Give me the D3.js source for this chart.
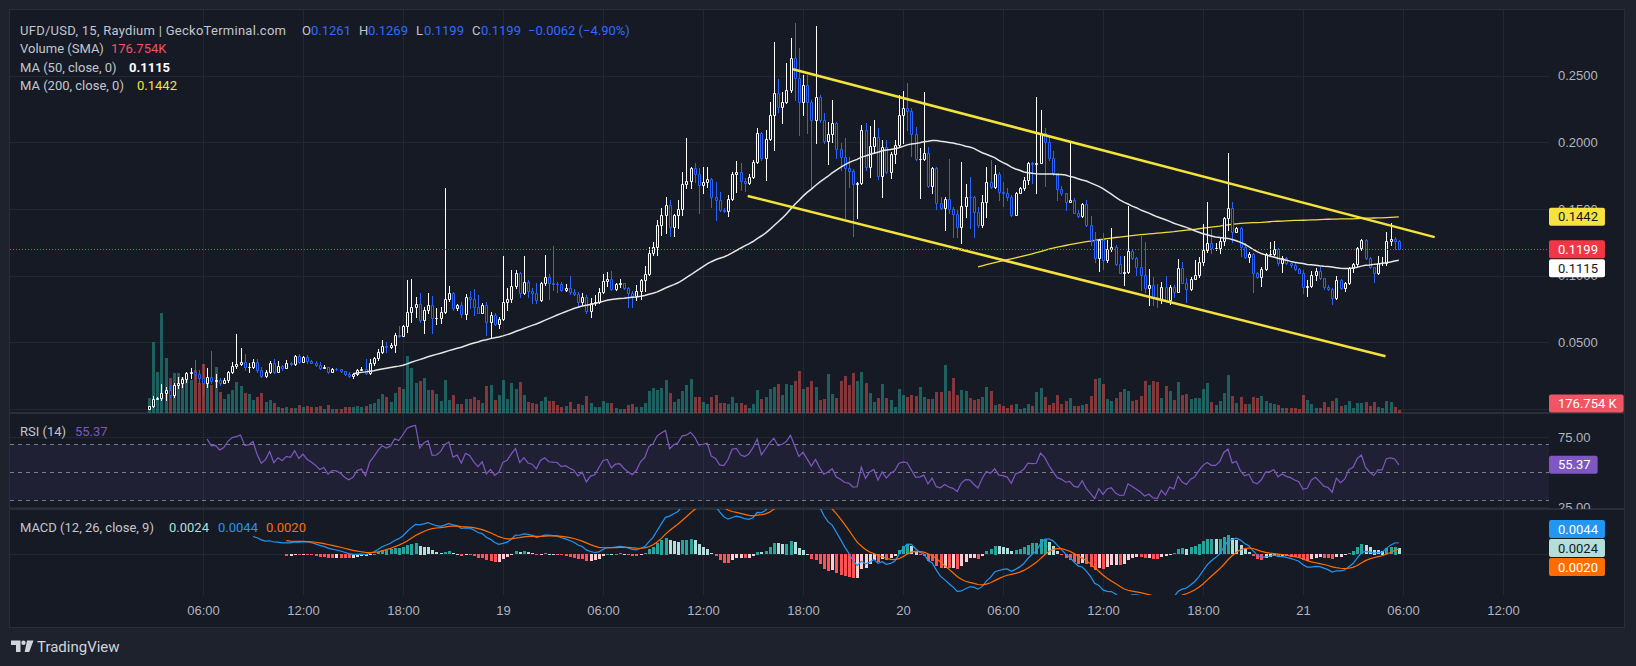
<!DOCTYPE html>
<html>
<head>
<meta charset="utf-8">
<title>UFD/USD 15</title>
<script src="https://cdn.jsdelivr.net/npm/d3@7/dist/d3.min.js"></script>
<style>
  html, body { margin: 0; padding: 0; background: #1e222d; }
  svg { display: block; font-family: Roboto, "Noto Sans", sans-serif; }
</style>
</head>
<body>
<svg id="chart" width="1636" height="666"></svg>
<script>
// 15 minute bars, first bar on the 18th at 02:45, open of a bar = close of the bar before
const firstBarHour = 2.75;
const firstOpen = 0.0003;

const closes = [
  .0023,.0075,.0083,.0118,.0143,.0103,.018,.0198,.0228,.027,
  .0275,.0263,.0235,.0193,.0243,.0213,.0218,.0198,.0218,.028,
  .0323,.0335,.0355,.0313,.0318,.035,.0293,.0248,.0275,.0343,
  .028,.0323,.0305,.0343,.0338,.0398,.0355,.0393,.0363,.0348,
  .033,.0305,.0318,.0278,.03,.0298,.0285,.0263,.0248,.026,
  .0293,.03,.0268,.0343,.038,.043,.0473,.0463,.048,.0555,
  .0548,.0623,.073,.0768,.0788,.067,.0743,.078,.068,.0685,
  .0725,.0823,.0868,.0755,.078,.0713,.0843,.0825,.0768,.0723,
  .078,.0655,.0705,.0638,.0673,.08,.0825,.0923,.1018,.0868,
  .095,.0888,.0873,.0818,.0943,.0988,.0943,.0938,.0935,.0893,
  .0905,.088,.0863,.0805,.0843,.0738,.0793,.0805,.0875,.096,
  .0973,.0898,.0938,.0943,.0905,.0873,.0848,.0883,.0968,.1013,
  .1168,.1213,.138,.1455,.153,.1368,.1455,.1498,.1688,.171,
  .1805,.176,.168,.17,.1723,.1593,.1568,.1493,.1485,.1573,
  .1763,.178,.1713,.1693,.1738,.1855,.2068,.188,.2023,.2205,
  .2368,.2268,.2305,.2393,.263,.248,.2305,.243,.2305,.2168,
  .2343,.2168,.2013,.2063,.2143,.1948,.1888,.1805,.1788,.1688,
  .1693,.2093,.1813,.1973,.2038,.175,.1963,.178,.1913,.198,
  .2205,.2255,.2238,.2063,.1873,.1873,.1918,.1675,.1805,.1543,
  .1505,.1573,.1498,.146,.1363,.1523,.1593,.1588,.148,.138,
  .1555,.1705,.1668,.1763,.163,.1618,.1588,.1455,.1623,.166,
  .1718,.1843,.1835,.1843,.2068,.2005,.188,.1768,.1648,.1618,
  .1555,.1568,.1473,.1448,.1538,.138,.1268,.113,.1268,.1118,
  .12,.1218,.1088,.1023,.1028,.1185,.113,.1068,.1005,.0905,
  .0928,.0843,.0823,.0918,.0818,.0918,.088,.1055,.0948,.0898,
  .0975,.1005,.1105,.1193,.1243,.1205,.1205,.1263,.143,.1505,
  .133,.1355,.1218,.1138,.1163,.1023,.0993,.1048,.116,.1163,
  .1198,.1093,.113,.1098,.108,.1048,.1023,.0913,.0923,.1005,
  .1035,.098,.0918,.0898,.083,.0968,.0905,.0943,.1055,.1085,
  .121,.1268,.113,.1063,.1018,.1093,.1093,.126,.1273,.1261,
  .1199
];

const highs = [
  .0025,.0098,.0093,.0185,.0168,.018,.0193,.0243,.0243,.028,
  .0305,.0368,.0293,.0335,.031,.0435,.0263,.0235,.023,.0288,
  .0353,.0563,.0455,.041,.0343,.0375,.0375,.0318,.0293,.0363,
  .0373,.0363,.033,.0368,.0353,.0405,.0413,.0398,.0405,.0368,
  .0358,.035,.033,.0318,.0305,.0305,.03,.0288,.028,.0268,
  .0298,.0318,.0378,.0378,.0393,.0448,.0518,.0505,.0498,.0568,
  .0623,.063,.0968,.0973,.0843,.0868,.0768,.0868,.0848,.0755,
  .0763,.1655,.0923,.088,.079,.0805,.0863,.0885,.09,.0855,
  .0793,.08,.073,.0723,.0693,.1148,.0905,.1043,.1043,.103,
  .1148,.0968,.0905,.0943,.095,.1155,.1013,.1223,.0955,.0955,
  .0938,.0998,.0898,.088,.0868,.0855,.083,.0855,.0905,.1013,
  .103,.1038,.0948,.0973,.0943,.0913,.0888,.093,.0973,.1075,
  .1213,.1255,.1418,.1505,.1588,.1568,.1463,.1568,.178,.203,
  .1818,.1843,.1805,.1818,.1818,.173,.1705,.163,.1505,.1605,
  .178,.1863,.1843,.173,.1763,.1868,.2105,.208,.2093,.2305,
  .2755,.2473,.238,.2593,.278,.2893,.2705,.2505,.2505,.2318,
  .2873,.2355,.2218,.2155,.2318,.2155,.1993,.203,.1893,.1798,
  .1705,.213,.2143,.2123,.2168,.2105,.2018,.2018,.193,.2018,
  .2355,.2388,.2448,.2255,.2118,.1955,.2378,.1968,.1818,.1818,
  .1593,.1593,.1873,.1518,.1493,.1855,.1688,.1743,.1598,.1518,
  .1605,.1813,.1868,.183,.178,.1705,.1655,.1605,.163,.1668,
  .1743,.1855,.1855,.2343,.2243,.2105,.2055,.1938,.1768,.1673,
  .1623,.2005,.158,.1493,.1548,.1568,.1448,.133,.1275,.1318,
  .1268,.1355,.123,.1148,.1148,.1523,.1198,.1138,.1298,.1255,
  .1048,.0988,.0938,.0955,.0998,.0928,.0928,.1123,.1105,.098,
  .0988,.1118,.1143,.1388,.1555,.1348,.1248,.1288,.1443,.1918,
  .1555,.1363,.1368,.1243,.118,.1168,.103,.1063,.1168,.1255,
  .1263,.1205,.1148,.1143,.1113,.1093,.1055,.1043,.0968,.1038,
  .1055,.1063,.0985,.0928,.0905,.0998,.0973,.095,.1068,.1093,
  .1218,.1275,.1273,.1143,.1068,.1148,.1143,.1325,.1393,.1293,
  .1269
];

const lows = [
  .0002,.0018,.0073,.0068,.0068,.0093,.0093,.0155,.0168,.0205,
  .023,.023,.0193,.0105,.0168,.0193,.0168,.018,.0198,.0205,
  .0268,.0305,.033,.0293,.028,.0305,.0278,.0238,.0243,.0268,
  .0268,.028,.0293,.0305,.0333,.033,.0348,.0355,.0348,.0343,
  .0323,.03,.0305,.0273,.0278,.0293,.028,.0258,.0238,.0235,
  .0255,.0293,.0263,.0263,.033,.0368,.0418,.043,.0455,.0425,
  .0538,.0548,.058,.0655,.0693,.0655,.0568,.0718,.0568,.0638,
  .0643,.0718,.0813,.0743,.0743,.0693,.0675,.0755,.0705,.072,
  .072,.0555,.053,.063,.0605,.0668,.0743,.0805,.0905,.0843,
  .0863,.0843,.0798,.0798,.0813,.093,.0825,.0893,.088,.0888,
  .0888,.0863,.0855,.0768,.078,.0718,.0688,.078,.0798,.0868,
  .0923,.0893,.0893,.0913,.09,.0768,.0768,.0818,.0823,.0888,
  .1005,.1158,.1158,.1305,.1318,.1298,.1298,.1355,.1455,.1655,
  .1655,.1705,.1473,.1623,.1668,.1518,.1418,.1488,.1478,.1448,
  .1568,.163,.1643,.1638,.1688,.173,.1843,.1868,.1718,.2018,
  .1943,.223,.2143,.2293,.238,.2318,.2055,.2205,.2068,.1668,
  .1998,.2155,.1998,.1838,.2005,.188,.1793,.143,.1668,.1298,
  .143,.1688,.1793,.1743,.1918,.1725,.1593,.1773,.173,.1848,
  .1973,.1993,.2093,.1898,.1868,.158,.1868,.1668,.1618,.1498,
  .1498,.1343,.1468,.1288,.1293,.1248,.1443,.1355,.1288,.1368,
  .1368,.1443,.1655,.1655,.1568,.1523,.1568,.1448,.1455,.1618,
  .1643,.1688,.1693,.1618,.1843,.1673,.1868,.1755,.1568,.1605,
  .1493,.1555,.1468,.1443,.1443,.1375,.123,.1105,.1038,.1048,
  .1105,.1188,.108,.1018,.093,.1018,.1123,.1005,.0893,.0875,
  .078,.078,.0763,.0793,.0805,.0785,.0838,.088,.0943,.0805,
  .0893,.0973,.0993,.108,.118,.1168,.1193,.1168,.123,.1343,
  .1255,.1325,.1148,.113,.1105,.088,.098,.0925,.1043,.1148,
  .1155,.108,.103,.1088,.1063,.1043,.1018,.0868,.085,.0913,
  .0968,.0973,.0898,.0893,.0788,.0823,.0898,.0888,.0938,.103,
  .1073,.1193,.1123,.1055,.0955,.1013,.108,.108,.123,.1198,
  .1199
];

// volume in thousands
const volumes = [
  900,4260,2460,6000,3300,2100,2400,2400,2160,2400,
  1980,2580,1800,2940,1800,1680,2760,1260,840,1140,
  1380,1860,1620,1200,1140,780,960,1200,660,780,
  600,360,300,360,300,300,480,360,420,360,
  360,420,240,480,240,240,240,360,360,360,
  420,360,420,540,600,840,1140,960,660,1200,
  1560,1440,3420,2700,1800,1920,2100,1380,1380,1140,
  720,1980,780,1080,540,540,840,840,960,780,
  600,1620,1680,780,1080,1980,840,1800,1440,1860,
  1080,660,600,540,720,960,720,720,480,360,
  420,660,240,540,480,1020,600,360,360,720,
  600,600,300,240,240,480,540,360,360,600,
  1320,1500,1380,1500,1980,1200,660,840,1320,1680,
  2040,960,960,660,540,960,1080,600,600,540,
  960,600,600,480,300,540,1380,840,960,1440,
  1560,1740,1080,1740,1680,1920,2520,1440,1560,1920,
  1560,780,840,2340,1140,900,1920,2220,1680,2400,
  1920,2460,1800,1200,660,900,1740,900,780,360,
  1440,1080,960,1080,1020,1560,960,840,840,1260,
  1260,2880,1320,2100,1080,1380,1320,900,780,840,
  960,1560,1320,480,540,420,300,480,540,240,
  300,540,420,1260,1500,960,480,600,1080,540,
  720,900,420,420,480,540,1020,2040,2100,1740,
  840,720,900,1260,1440,1320,720,780,1020,1920,
  1680,1920,1860,900,1620,1320,780,1860,1080,1140,
  840,900,900,1440,1800,660,480,720,1200,2280,
  1020,600,960,540,540,960,900,1020,720,600,
  540,480,300,300,300,300,240,1080,780,540,
  300,300,660,360,720,900,420,480,720,300,
  600,600,660,420,660,360,300,720,660,360,
  176.754
];

const priceTicks = [0.05, 0.10, 0.15, 0.20, 0.25];
const priceGrid = [0, 0.05, 0.10, 0.15, 0.20, 0.25];
const rsiTicks = [75, 25];
const rsiLevels = [70, 50, 30];
const timeTickHours = [6, 12, 18, 24, 30, 36, 42, 48, 54, 60, 66, 72, 78, 84];
const timeTickLabels = ["06:00", "12:00", "18:00", "19", "06:00", "12:00", "18:00", "20",
                        "06:00", "12:00", "18:00", "21", "06:00", "12:00"];

// hand drawn channel: [hours after the 18th 00:00, price]
const upperChannel = [[41.4, 0.2548], [79.9, 0.1289]];
const lowerChannel = [[38.68, 0.1598], [76.95, 0.0396]];

const lastPrice = 0.1199;

// ---- layout ----
const frame = { left: 10, top: 10, right: 1624, bottom: 627 };
const plotRight = 1549;
const pricePane = { top: 10, bottom: 413 };
const rsiPane = { top: 413, bottom: 509 };
const macdPane = { top: 509, bottom: 595 };

const col = {
  bg: "#161a25", grid: "#232733", text: "#b2b5be", legend: "#c3c6ce",
  up: "#ffffff", down: "#2962ff", volUp: "#26a69a", volDown: "#ef5350",
  ma50: "#e6e6e6", ma200: "#f2dc3a", channel: "#f5e33d", last: "#f23645",
  rsi: "#7e57c2", macd: "#2196f3", signal: "#ff6d00"
};

const svg = d3.select("#chart");
const defs = svg.append("defs");
function clip(id, x0, y0, x1, y1) {
  defs.append("clipPath").attr("id", id).append("rect")
    .attr("x", x0).attr("y", y0).attr("width", x1 - x0).attr("height", y1 - y0);
}
clip("clip-price", frame.left, pricePane.top, plotRight, pricePane.bottom);
clip("clip-rsi", frame.left, rsiPane.top, plotRight, rsiPane.bottom);
clip("clip-macd", frame.left, macdPane.top, plotRight, macdPane.bottom);
clip("clip-rsi-axis", plotRight, rsiPane.top + 1, frame.right, rsiPane.bottom);

// ---- bars ----
const t0 = Date.UTC(2024, 0, 18, 0, 0);
const HOUR = 3600e3;
const hourDate = h => new Date(t0 + h * HOUR);
const bars = closes.map((c, i) => ({
  i,
  t: hourDate(firstBarHour + i / 4),
  o: i === 0 ? firstOpen : closes[i - 1],
  h: highs[i], l: lows[i], c,
  v: volumes[i]
}));
bars.forEach(b => { b.up = b.c >= b.o; b.h = Math.max(b.h, b.o, b.c); b.l = Math.min(b.l, b.o, b.c); });

// ---- indicators ----
function sma(src, len) {
  const out = src.map(() => null);
  let s = 0;
  for (let i = 0; i < src.length; i++) {
    s += src[i];
    if (i >= len) s -= src[i - len];
    if (i >= len - 1) out[i] = s / len;
  }
  return out;
}
function ema(src, len) {
  const out = src.map(() => null);
  const start = src.findIndex(v => v != null);
  if (start < 0 || start + len > src.length) return out;
  const a = 2 / (len + 1);
  let prev = d3.mean(src.slice(start, start + len));
  out[start + len - 1] = prev;
  for (let i = start + len; i < src.length; i++) { prev = a * src[i] + (1 - a) * prev; out[i] = prev; }
  return out;
}
function rsiCalc(src, len) {
  const out = src.map(() => null);
  let g = 0, l = 0;
  for (let i = 1; i <= len; i++) { const d = src[i] - src[i - 1]; if (d > 0) g += d; else l -= d; }
  g /= len; l /= len;
  out[len] = l === 0 ? 100 : 100 - 100 / (1 + g / l);
  for (let i = len + 1; i < src.length; i++) {
    const d = src[i] - src[i - 1];
    g = (g * (len - 1) + Math.max(d, 0)) / len;
    l = (l * (len - 1) + Math.max(-d, 0)) / len;
    out[i] = l === 0 ? 100 : 100 - 100 / (1 + g / l);
  }
  return out;
}
const ma50 = sma(closes, 50);
const ma200 = sma(closes, 200);
const rsi = rsiCalc(closes, 14);
const ema12 = ema(closes, 12), ema26 = ema(closes, 26);
const macd = closes.map((_, i) => ema26[i] == null ? null : ema12[i] - ema26[i]);
const signal = ema(macd, 9);
const hist = macd.map((m, i) => signal[i] == null ? null : m - signal[i]);

// ---- scales ----
const x = d3.scaleUtc().domain([hourDate(0), hourDate(96)]).range([103, 1703]);
const y = d3.scaleLinear().domain([0, 0.25]).range([409, 409 - 0.25 / 0.00075]);
const yVol = d3.scaleLinear().domain([0, 6000]).range([pricePane.bottom, pricePane.bottom - 100]);
const yRsi = d3.scaleLinear().domain([30, 70]).range([500.3, 444.3]);
const yMacd = d3.scaleLinear().domain([0, 0.01]).range([554.3, 554.3 - 26.4]);

// ---- frame ----
svg.append("rect").attr("width", 1636).attr("height", 666).attr("fill", "#1e222d");
svg.append("rect").attr("x", frame.left - 0.5).attr("y", frame.top - 0.5)
  .attr("width", frame.right - frame.left + 1).attr("height", frame.bottom - frame.top + 1)
  .attr("fill", col.bg).attr("stroke", "#2a2e39");

// grid
const grid = svg.append("g").attr("stroke", col.grid).attr("stroke-width", 1);
timeTickHours.forEach(h => {
  const gx = Math.round(x(hourDate(h))) + 0.5;
  grid.append("line").attr("x1", gx).attr("x2", gx).attr("y1", frame.top).attr("y2", macdPane.bottom);
});
priceGrid.forEach(p => {
  const gy = Math.round(y(p)) + 0.5;
  grid.append("line").attr("x1", frame.left).attr("x2", plotRight).attr("y1", gy).attr("y2", gy);
});
rsiTicks.forEach(r => {
  const gy = Math.round(yRsi(r)) + 0.5;
  grid.append("line").attr("x1", frame.left).attr("x2", plotRight).attr("y1", gy).attr("y2", gy);
});
grid.append("line").attr("x1", frame.left).attr("x2", plotRight)
  .attr("y1", Math.round(yMacd(0)) + 0.5).attr("y2", Math.round(yMacd(0)) + 0.5);

// pane separators
[rsiPane.top, macdPane.top].forEach(py => {
  svg.append("line").attr("x1", frame.left).attr("x2", frame.right).attr("y1", py).attr("y2", py)
    .attr("stroke", "#2a2e39").attr("stroke-width", 2);
});

// ---- price pane ----
const gp = svg.append("g").attr("clip-path", "url(#clip-price)");

gp.append("g").selectAll("rect").data(bars).join("rect")
  .attr("x", d => Math.round(x(d.t)) - 1)
  .attr("y", d => Math.round(yVol(d.v)))
  .attr("width", 3)
  .attr("height", d => pricePane.bottom - Math.round(yVol(d.v)))
  .attr("fill", d => d.up ? col.volUp : col.volDown)
  .attr("fill-opacity", 0.5);

const lineFrom = (arr, ys) => d3.line()
  .defined(d => arr[d.i] != null)
  .x(d => x(d.t)).y(d => ys(arr[d.i]));

gp.append("path").datum(bars).attr("d", lineFrom(ma200, y))
  .attr("fill", "none").attr("stroke", col.ma200).attr("stroke-width", 1.3);

const gc = gp.append("g");
bars.forEach(b => {
  const cx = Math.round(x(b.t));
  const yo = Math.round(y(b.o)), yc = Math.round(y(b.c));
  const top = Math.min(yo, yc), bot = Math.max(yo, yc);
  const yh = Math.round(y(b.h)), yl = Math.round(y(b.l));
  const c = b.up ? col.up : col.down;
  gc.append("path")
    .attr("d", `M${cx + 0.5},${yh}V${top}M${cx + 0.5},${bot + 1}V${yl + 1}`)
    .attr("stroke", c).attr("stroke-width", 1);
  gc.append("path")
    .attr("d", `M${cx - 0.5},${top + 0.5}H${cx + 1.5}V${bot + 0.5}H${cx - 0.5}Z`)
    .attr("fill", col.bg).attr("stroke", c).attr("stroke-width", 1);
});

gp.append("path").datum(bars).attr("d", lineFrom(ma50, y))
  .attr("fill", "none").attr("stroke", col.ma50).attr("stroke-width", 1.5);

const chLine = d3.line().x(d => x(hourDate(d[0]))).y(d => y(d[1]));
[upperChannel, lowerChannel].forEach(ch => {
  gp.append("path").datum(ch).attr("d", chLine)
    .attr("fill", "none").attr("stroke", col.channel).attr("stroke-width", 2.5);
});

const ly = Math.round(y(lastPrice)) + 0.5;
gp.append("line").attr("x1", frame.left).attr("x2", plotRight).attr("y1", ly).attr("y2", ly)
  .attr("stroke", col.last).attr("stroke-width", 1).attr("stroke-dasharray", "1 2");

// ---- RSI pane ----
const gr = svg.append("g").attr("clip-path", "url(#clip-rsi)");
gr.append("rect").attr("x", frame.left).attr("width", plotRight - frame.left)
  .attr("y", yRsi(70)).attr("height", yRsi(30) - yRsi(70))
  .attr("fill", "#7e57c2").attr("fill-opacity", 0.1);
rsiLevels.forEach(r => {
  const gy = Math.round(yRsi(r)) + 0.5;
  gr.append("line").attr("x1", frame.left).attr("x2", plotRight).attr("y1", gy).attr("y2", gy)
    .attr("stroke", "#787b86").attr("stroke-dasharray", "4 4");
});
gr.append("path").datum(bars).attr("d", lineFrom(rsi, yRsi))
  .attr("fill", "none").attr("stroke", col.rsi).attr("stroke-width", 1.2);

// ---- MACD pane ----
const gm = svg.append("g").attr("clip-path", "url(#clip-macd)");
gm.append("g").selectAll("rect").data(bars.filter(b => hist[b.i] != null)).join("rect")
  .attr("x", d => Math.round(x(d.t)) - 1)
  .attr("width", 3)
  .attr("y", d => Math.round(Math.min(yMacd(hist[d.i]), yMacd(0))))
  .attr("height", d => Math.max(1, Math.round(Math.abs(yMacd(hist[d.i]) - yMacd(0)))))
  .attr("fill", d => {
    const h = hist[d.i], p = hist[d.i - 1] == null ? h : hist[d.i - 1];
    if (h >= 0) return p < h ? "#26a69a" : "#b2dfdb";
    return p < h ? "#ffcdd2" : "#ff5252";
  });
gm.append("path").datum(bars).attr("d", lineFrom(macd, yMacd))
  .attr("fill", "none").attr("stroke", col.macd).attr("stroke-width", 1.2);
gm.append("path").datum(bars).attr("d", lineFrom(signal, yMacd))
  .attr("fill", "none").attr("stroke", col.signal).attr("stroke-width", 1.2);

// ---- axes ----
const priceAxis = svg.append("g").attr("transform", `translate(${plotRight},0)`)
  .call(d3.axisRight(y).tickValues(priceTicks).tickSize(0).tickPadding(9).tickFormat(d3.format(".4f")));
const rsiAxis = svg.append("g").attr("clip-path", "url(#clip-rsi-axis)")
  .append("g").attr("transform", `translate(${plotRight},0)`)
  .call(d3.axisRight(yRsi).tickValues(rsiTicks).tickSize(0).tickPadding(9).tickFormat(d3.format(".2f")));
const timeAxis = svg.append("g").attr("transform", `translate(0,${macdPane.bottom})`)
  .call(d3.axisBottom(x).tickValues(timeTickHours.map(hourDate)).tickSize(0).tickPadding(11)
    .tickFormat((d, i) => timeTickLabels[i]));
[priceAxis, rsiAxis, timeAxis].forEach(a => {
  a.select(".domain").remove();
  a.selectAll("text").attr("fill", col.text).attr("font-size", 13).attr("font-family", null);
});

// ---- value tags on the scale ----
const TAG_H = 18;
function layoutTags(tags, anchor) {
  const order = tags.slice().sort((a, b) => a.y - b.y);
  const k = order.indexOf(anchor);
  for (let j = k - 1; j >= 0; j--) order[j].y = Math.min(order[j].y, order[j + 1].y - TAG_H - 1);
  for (let j = k + 1; j < order.length; j++) order[j].y = Math.max(order[j].y, order[j - 1].y + TAG_H + 1);
}
function drawTag(t) {
  const g = svg.append("g");
  const txt = g.append("text").attr("x", plotRight + 9).attr("y", t.y).attr("dy", "0.36em")
    .attr("font-size", 13).attr("fill", t.color).text(t.text);
  const w = txt.node().getComputedTextLength() + 16;
  g.insert("rect", "text").attr("x", plotRight).attr("y", t.y - TAG_H / 2)
    .attr("width", w).attr("height", TAG_H).attr("rx", 2).attr("fill", t.fill);
}
const priceTags = [
  { y: y(0.1442), text: "0.1442", fill: "#f7e33e", color: "#131722" },
  { y: y(0.1199), text: "0.1199", fill: "#f23645", color: "#ffffff" },
  { y: y(0.1115), text: "0.1115", fill: "#ffffff", color: "#131722" }
];
layoutTags(priceTags, priceTags[1]);
const volTag = { y: Math.min(yVol(176.754), pricePane.bottom - TAG_H / 2 - 0.5), text: "176.754 K", fill: "#f05563", color: "#ffffff" };
const rsiTag = { y: yRsi(55.37), text: "55.37", fill: "#7e57c2", color: "#ffffff" };
const macdTags = [
  { y: yMacd(0.0044), text: "0.0044", fill: "#2196f3", color: "#ffffff" },
  { y: yMacd(0.0024), text: "0.0024", fill: "#b2dfdb", color: "#131722" },
  { y: yMacd(0.0020), text: "0.0020", fill: "#ff6d00", color: "#ffffff" }
];
layoutTags(macdTags, macdTags[1]);
[...priceTags, volTag, rsiTag, ...macdTags].forEach(drawTag);

// ---- legends ----
function legendLine(yy, parts) {
  parts.forEach(p => {
    const t = svg.append("text").attr("x", p[0]).attr("y", yy).attr("dy", "0.36em")
      .attr("font-size", 13).attr("fill", p[2] || col.legend)
      .attr("font-weight", p[3] || null).text(p[1]);
    if (p[4]) t.attr("textLength", p[4]).attr("lengthAdjust", "spacing");
  });
}
const down = "#2f6bff";
legendLine(30, [
  [20, "UFD/USD, 15, Raydium | GeckoTerminal.com", null, null, 266],
  [302, "O"], [311, "0.1261", down],
  [359, "H"], [368, "0.1269", down],
  [416, "L"], [424, "0.1199", down],
  [472, "C"], [481, "0.1199", down],
  [528, "\u22120.0062 (\u22124.90%)", down]
]);
legendLine(48.5, [[20, "Volume (SMA)"], [111, "176.754K", "#f05563"]]);
legendLine(67, [[20, "MA (50, close, 0)"], [129, "0.1115", "#ffffff", 700]]);
legendLine(85, [[20, "MA (200, close, 0)"], [137, "0.1442", "#f7e33e"]]);
legendLine(431, [[20, "RSI (14)"], [75, "55.37", col.rsi]]);
legendLine(527.5, [[20, "MACD (12, 26, close, 9)"], [169, "0.0024", "#b2dfdb"],
  [218, "0.0044", col.macd], [266, "0.0020", col.signal]]);

// ---- TradingView mark ----
const logo = svg.append("g").attr("fill", "#d1d4dc");
logo.append("path").attr("d", "M11,640.5H20.5V652H16V645H11Z");
logo.append("circle").attr("cx", 23.5).attr("cy", 642.8).attr("r", 2.2);
logo.append("path").attr("d", "M27,640.5H33.5L29.2,652H24.7Z");
svg.append("text").attr("x", 37).attr("y", 647).attr("dy", "0.36em")
  .attr("font-size", 15).attr("fill", "#d1d4dc").text("TradingView");
</script>
</body>
</html>
